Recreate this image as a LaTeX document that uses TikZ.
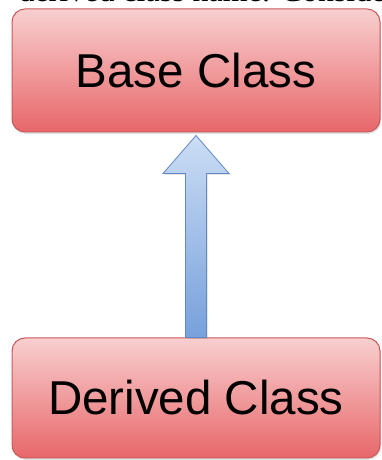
\documentclass[tikz,border=0pt]{standalone}
\usepackage{fontspec}
\setmainfont{Liberation Serif}
\setsansfont{Liberation Sans}
\usetikzlibrary{shadows,calc}

\definecolor{boxtop}{HTML}{F8CFCF}
\definecolor{boxbottom}{HTML}{E8676A}
\definecolor{boxline}{HTML}{C9575A}
\definecolor{arrowtop}{HTML}{CBDDF4}
\definecolor{arrowbottom}{HTML}{77A0DB}
\definecolor{arrowline}{HTML}{6089C8}

\tikzset{
  classbox/.style={draw=boxline, line width=1pt, rounded corners=13pt,
    top color=boxtop, bottom color=boxbottom,
    minimum width=368pt, inner sep=0pt,
    drop shadow={opacity=0.25, shadow xshift=1pt, shadow yshift=-2pt},
    font=\sffamily\fontsize{47.5}{50}\selectfont},
  uparrow/.style={draw=arrowline, line width=0.8pt, line join=miter,
    top color=arrowtop, bottom color=arrowbottom,
    drop shadow={opacity=0.2, shadow xshift=1.5pt, shadow yshift=-1.5pt}}
}

\begin{document}
\begin{tikzpicture}[x=1pt,y=1pt]
\useasboundingbox (0,0) rectangle (382,460);
\clip (0,0) rectangle (382,460);

\node[anchor=base west, font=\fontsize{32}{34}\selectfont] (intro) at (15,458.6) {derived class name. Consider};

\node[classbox, minimum height=123pt] (base) at (196,389.5) {Base Class};
\node[classbox, minimum height=120pt] (derived) at (196,62) {Derived Class};

\draw[uparrow] ([xshift=-10.5pt]derived.north)
  |- ([xshift=-33pt,yshift=-41pt]base.south)
  -- ([yshift=-3pt]base.south)
  -- ([xshift=33pt,yshift=-41pt]base.south)
  -| ([xshift=10.5pt]derived.north) -- cycle;

\end{tikzpicture}
\end{document}
